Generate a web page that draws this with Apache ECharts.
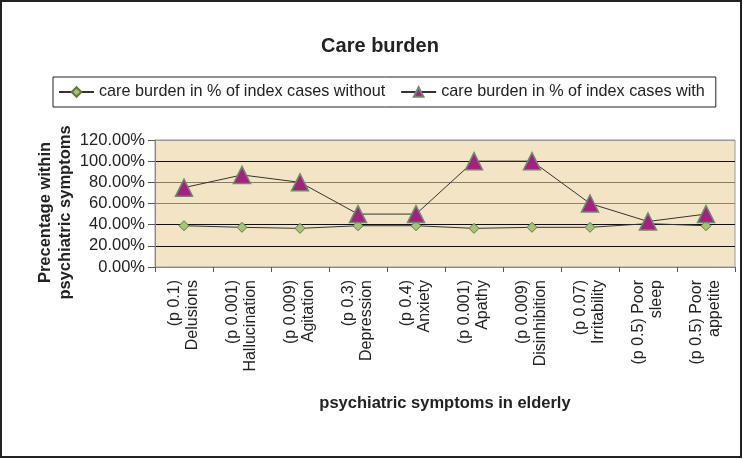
<!DOCTYPE html>
<html>
<head>
<meta charset="utf-8">
<script src="https://cdn.jsdelivr.net/npm/echarts@6/dist/echarts.min.js"></script>
<style>
html,body{margin:0;padding:0;background:#fff;}
#c{width:743px;height:459px;}
</style>
</head>
<body>
<div id="c"></div>
<script>
const categories = ['(p 0.1)\nDelusions', '(p 0.001)\nHallucination', '(p 0.009)\nAgitation', '(p 0.3)\nDepression', '(p 0.4)\nAnxiety', '(p 0.001)\nApathy', '(p 0.009)\nDisinhibition', '(p 0.07)\nIrritability', '(p 0.5) Poor\nsleep', '(p 0.5) Poor\nappetite'];
const withoutValues = [39, 37.5, 36.5, 39, 39, 36.5, 37.5, 37.5, 41, 39];
const withValues = [75, 87, 80, 50, 50, 100, 100, 60, 43, 50];
const seriesNames = ['care burden in % of index cases without', 'care burden in % of index cases with'];
const yTicks = [0, 20, 40, 60, 80, 100, 120];

const font = 'Liberation Sans, Arial, sans-serif';
const chart = echarts.init(document.getElementById('c'));
chart.setOption({
  animation: false,
  backgroundColor: '#fff',
  textStyle: { fontFamily: font },
  graphic: [{
    type: 'rect', shape: { x: 1, y: 1, width: 740, height: 456 },
    style: { fill: 'none', stroke: '#222', lineWidth: 2 }, z: 100
  }],
  title: {
    text: 'Care burden', left: 375, top: 31, textAlign: 'center',
    textStyle: { fontFamily: font, fontSize: 20, fontWeight: 'bold', color: '#222' }
  },
  legend: {
    left: 53, top: 77, width: 680,
    borderColor: '#222', borderWidth: 1, borderRadius: 0,
    padding: [7, 11, 7, 5],
    itemWidth: 35, itemHeight: 12, itemGap: 15,
    textStyle: { fontFamily: font, fontSize: 16.2, color: '#222' },
    data: seriesNames
  },
  grid: {
    left: 155, right: 8, top: 140, bottom: 192,
    show: true, backgroundColor: '#f4e4c6', borderColor: '#999', borderWidth: 1
  },
  xAxis: {
    type: 'category', data: categories, boundaryGap: true,
    name: 'psychiatric symptoms in elderly', nameLocation: 'middle', nameGap: 128,
    nameTextStyle: { fontFamily: font, fontSize: 16.5, fontWeight: 'bold', color: '#222' },
    axisLine: { lineStyle: { color: '#888' } },
    axisTick: { show: true, interval: 0, length: 5, lineStyle: { color: '#555' } },
    axisLabel: { interval: 0, rotate: 90, margin: 13, fontFamily: font, fontSize: 16, color: '#222', lineHeight: 18 }
  },
  yAxis: {
    type: 'value', min: yTicks[0], max: yTicks[yTicks.length - 1], interval: 20,
    name: 'Precentage within\npsychiatric symptoms', nameLocation: 'middle', nameGap: 80, nameRotate: 90,
    nameMoveOverlap: false,
    nameTextStyle: { fontFamily: font, fontSize: 16.5, fontWeight: 'bold', color: '#222', lineHeight: 20, padding: [0, 18, 0, 0] },
    axisLine: { show: true, lineStyle: { color: '#888' } },
    axisTick: { show: true, length: 7, lineStyle: { color: '#555' } },
    axisLabel: { margin: 10, fontFamily: font, fontSize: 16.5, color: '#222',
      formatter: v => v.toFixed(2) + '%' },
    splitLine: { show: true, lineStyle: { color: ['#999', '#111', '#111', '#8a8478', '#8a7a62', '#111', '#999'], width: 1 } }
  },
  series: [
    {
      name: seriesNames[0], type: 'line', data: withoutValues,
      symbol: 'diamond', symbolSize: 10,
      lineStyle: { color: '#333', width: 1 },
      itemStyle: { color: '#a9c27a', borderColor: '#5d7a3a', borderWidth: 1 },
      z: 2
    },
    {
      name: seriesNames[1], type: 'line', data: withValues,
      symbol: 'triangle', symbolSize: 17,
      lineStyle: { color: '#333', width: 1 },
      itemStyle: { color: '#a3217f', borderColor: '#6e8a6e', borderWidth: 1.5 },
      z: 3
    }
  ]
});
</script>
</body>
</html>
